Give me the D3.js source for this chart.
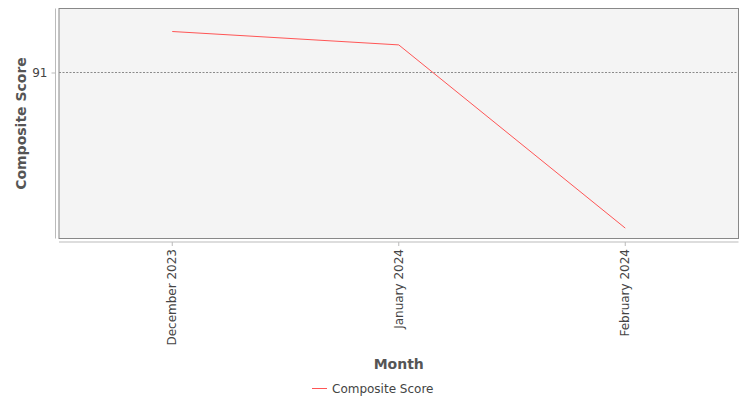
<!DOCTYPE html>
<html>
<head>
<meta charset="utf-8">
<script src="https://cdn.jsdelivr.net/npm/d3@7"></script>
<style>
  body { margin: 0; background: #fff; }
  text { font-family: "DejaVu Sans", sans-serif; fill: #444; }
</style>
</head>
<body>
<svg id="chart" width="750" height="400"></svg>
<script>
// data
const months = ["December 2023", "January 2024", "February 2024"];
const compositeScore = [91.205, 91.138, 90.222];
const yTicks = [91];
const seriesName = "Composite Score";

const width = 750, height = 400;
const plot = { left: 59, right: 738.5, top: 8.5, bottom: 238.5 };

const svg = d3.select("#chart");

const x = d3.scaleBand()
    .domain(months)
    .range([plot.left, plot.right])
    .padding(0);

const y = d3.scaleLinear()
    .domain([90.17, 91.32])
    .range([plot.bottom, plot.top]);

// plot background + border
svg.append("rect")
    .attr("x", plot.left)
    .attr("y", plot.top)
    .attr("width", plot.right - plot.left)
    .attr("height", plot.bottom - plot.top)
    .attr("fill", "#f4f4f4")
    .attr("stroke", "#888")
    .attr("stroke-width", 1);

// dotted gridline
svg.selectAll(".grid")
    .data(yTicks)
    .enter().append("line")
    .attr("class", "grid")
    .attr("x1", plot.left)
    .attr("x2", plot.right)
    .attr("y1", d => Math.round(y(d)) + 0.5)
    .attr("y2", d => Math.round(y(d)) + 0.5)
    .attr("stroke", "#8a8a8a")
    .attr("stroke-dasharray", "2,1.5")
    .attr("stroke-width", 1);

// y axis (offset to the left of the plot)
const yAxis = svg.append("g")
    .attr("transform", `translate(${plot.left - 3.5},0)`)
    .call(d3.axisLeft(y).tickValues(yTicks).tickSize(4).tickPadding(4).tickFormat(d3.format("d")));
yAxis.select(".domain")
    .attr("d", `M0,${plot.top}V${plot.bottom}`)
    .attr("stroke", "#bbb");
yAxis.selectAll(".tick line").attr("stroke", "#bbb");
yAxis.selectAll(".tick text")
    .style("font-family", "DejaVu Sans, sans-serif")
    .style("font-size", "12px")
    .attr("fill", "#444");

// x axis (offset below the plot)
const xAxis = svg.append("g")
    .attr("transform", `translate(0,${plot.bottom + 3.5})`)
    .call(d3.axisBottom(x).tickSize(4).tickPadding(4));
xAxis.select(".domain")
    .attr("d", `M${plot.left},0H${plot.right}`)
    .attr("stroke", "#bbb");
xAxis.selectAll(".tick line").attr("stroke", "#bbb");
xAxis.selectAll(".tick text")
    .style("font-family", "DejaVu Sans, sans-serif")
    .style("font-size", "12px")
    .attr("fill", "#444")
    .attr("transform", "rotate(-90)")
    .attr("text-anchor", "end")
    .attr("x", -7)
    .attr("y", 0)
    .attr("dy", "0.35em");

// axis titles
svg.append("text")
    .attr("x", (plot.left + plot.right) / 2)
    .attr("y", 369)
    .attr("text-anchor", "middle")
    .style("font-size", "14px")
    .style("font-weight", "bold")
    .style("fill", "#555")
    .text("Month");

svg.append("text")
    .attr("transform", `translate(26,${(plot.top + plot.bottom) / 2}) rotate(-90)`)
    .attr("text-anchor", "middle")
    .style("font-size", "14px")
    .style("font-weight", "bold")
    .style("fill", "#555")
    .text("Composite Score");

// series line
const line = d3.line()
    .x((d, i) => x(months[i]) + x.bandwidth() / 2)
    .y(d => y(d));

svg.append("path")
    .datum(compositeScore)
    .attr("d", line)
    .attr("fill", "none")
    .attr("stroke", "#ff5555")
    .attr("stroke-width", 1);

// legend
const legend = svg.append("g").attr("transform", "translate(312,388.5)");
legend.append("line")
    .attr("x1", 0).attr("x2", 15)
    .attr("stroke", "#ff5555")
    .attr("stroke-width", 1);
legend.append("text")
    .attr("x", 20)
    .attr("dy", "0.35em")
    .style("font-size", "12px")
    .text(seriesName);
</script>
</body>
</html>
